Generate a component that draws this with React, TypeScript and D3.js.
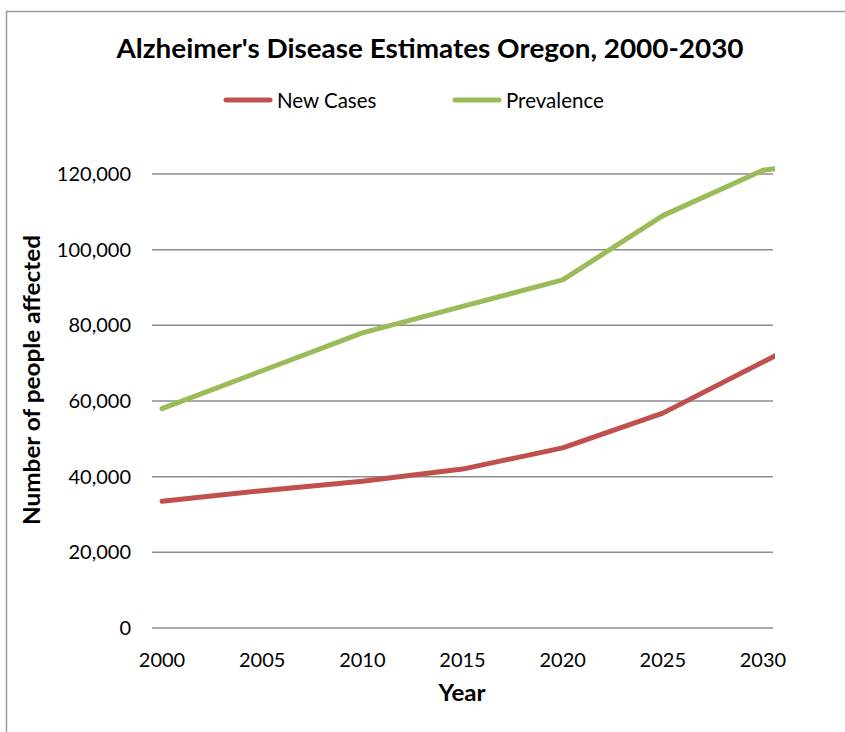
import React from "react";
import * as d3 from "d3";

const years = [2000, 2005, 2010, 2015, 2020, 2025, 2030, 2031];
const newCases = [33500, 36300, 38800, 42000, 47600, 56800, 70300, 73000];
const prevalence = [58000, 68000, 78000, 85000, 92000, 109000, 121000, 121600];
const xTicks = [2000, 2005, 2010, 2015, 2020, 2025, 2030];
const yTicks = [0, 20000, 40000, 60000, 80000, 100000, 120000];
const seriesNames = ["New Cases", "Prevalence"];
const seriesColors = ["#C0504D", "#9BBB59"];

const W = 845;
const H = 732;
const left = 152;
const right = 773;
const top = 174;
const bottom = 628;
const FONT = "Lato, 'Open Sans', sans-serif";

export default function App() {
  const x = d3.scaleLinear().domain([1999.5, 2030.5]).range([left, right]);
  const y = d3.scaleLinear().domain([0, 120000]).range([bottom, top]);
  const fmt = d3.format(",");
  const line = d3
    .line<number>()
    .x((_, i) => x(years[i]))
    .y((d) => y(d));
  const series = [newCases, prevalence];

  return (
    <svg
      width={W}
      height={H}
      style={{ position: "absolute", left: 0, top: 0, background: "#fff" }}
      fontFamily={FONT}
    >
      <defs>
        <clipPath id="plotclip">
          <rect x={left} y={0} width={right - left + 2} height={H} />
        </clipPath>
      </defs>
      <rect x={6.5} y={11.5} width={W + 20} height={H + 20} fill="#fff" stroke="#9a9a9a" strokeWidth={1.5} />
      <text
        x={430}
        y={58}
        textAnchor="middle"
        fontSize={26}
        fontWeight="bold"
        fill="#000"
        textLength={627}
        lengthAdjust="spacingAndGlyphs"
      >
        Alzheimer's Disease Estimates Oregon, 2000-2030
      </text>
      {/* legend */}
      {seriesNames.map((n, i) => {
        const lx = i === 0 ? 226 : 455;
        return (
          <g key={n}>
            <line x1={lx} x2={lx + 44} y1={100} y2={100} stroke={seriesColors[i]} strokeWidth={5} strokeLinecap="round" />
            <text x={lx + 51} y={107.5} fontSize={20.5} fill="#000">
              {n}
            </text>
          </g>
        );
      })}
      {/* gridlines */}
      {yTicks.map((t) => (
        <g key={t}>
          <line x1={left} x2={right} y1={y(t)} y2={y(t)} stroke="#8c8c8c" strokeWidth={1.5} />
          <text x={131} y={y(t) + 7} textAnchor="end" fontSize={20} fill="#000">
            {fmt(t)}
          </text>
        </g>
      ))}
      {xTicks.map((t) => (
        <text key={t} x={x(t)} y={667} textAnchor="middle" fontSize={20} fill="#000">
          {t}
        </text>
      ))}
      <text x={462} y={701} textAnchor="middle" fontSize={22} fontWeight="bold" fill="#000" textLength={47} lengthAdjust="spacingAndGlyphs">
        Year
      </text>
      <text
        transform={`translate(40,380) rotate(-90)`}
        textAnchor="middle"
        fontSize={22}
        fontWeight="bold"
        fill="#000"
        textLength={290}
        lengthAdjust="spacingAndGlyphs"
      >
        Number of people affected
      </text>
      <g clipPath="url(#plotclip)">
        {series.map((s, i) => (
          <path
            key={i}
            d={line(s) || ""}
            fill="none"
            stroke={seriesColors[i]}
            strokeWidth={5}
            strokeLinecap="round"
            strokeLinejoin="round"
          />
        ))}
      </g>
    </svg>
  );
}
